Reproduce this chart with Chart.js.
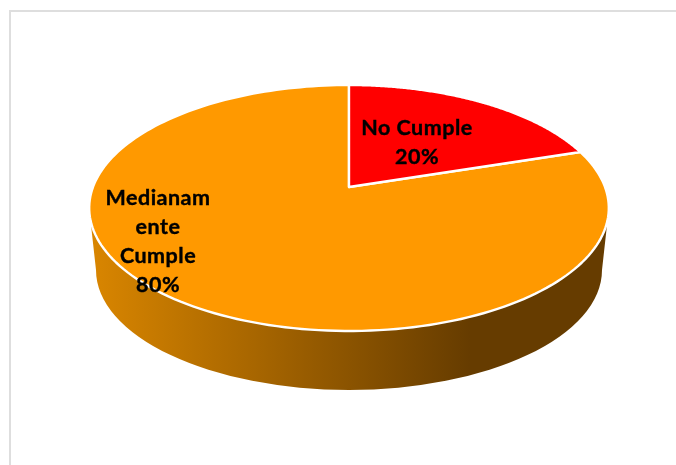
<!DOCTYPE html>
<html>
<head>
<meta charset="utf-8">
<script src="https://cdn.jsdelivr.net/npm/chart.js@4"></script>
<style>
  html, body { margin: 0; background: #fff; overflow: hidden; }
  #frame { position: absolute; left: 9px; top: 10px; right: 0; bottom: 0; border-left: 2px solid #dedede; border-top: 2px solid #dedede; }
  canvas { position: absolute; left: 0; top: 0; }
</style>
</head>
<body>
<div id="frame"></div>
<canvas id="pie" width="676" height="465"></canvas>
<script>
const categories = ['No Cumple', 'Medianamente Cumple'];
const values = [20, 80];
const sliceColors = ['#ff0000', '#ff9900'];
// wrapped the way the original label box breaks them
const labelLines = [['No Cumple'], ['Medianam', 'ente', 'Cumple']];

// perspective of the tilted disc: flat circle -> screen
const apexX = 349, apexY = 187;
const scaleU = 256, scaleV = 119.4, tilt = -0.1707;

function project(angle) {
  const u = Math.cos(angle), v = Math.sin(angle);
  const d = 1 + tilt * v;
  return [apexX + scaleU * u / d, apexY + scaleV * v / d];
}

function drawWall(ctx) {
  const grad = ctx.createLinearGradient(95, 0, 470, 0);
  grad.addColorStop(0, '#d88500');
  grad.addColorStop(1, '#663c00');
  ctx.beginPath();
  ctx.moveTo(91, 225);
  ctx.lineTo(96, 270);
  ctx.ellipse(349, 270, 253, 120, 0, Math.PI, 0, true);
  ctx.lineTo(607, 225);
  ctx.closePath();
  ctx.fillStyle = grad;
  ctx.fill();
}

function drawSlice(ctx, arc) {
  const steps = 180;
  ctx.beginPath();
  ctx.moveTo(apexX, apexY);
  for (let i = 0; i <= steps; i++) {
    const p = project(arc.startAngle + (arc.endAngle - arc.startAngle) * i / steps);
    ctx.lineTo(p[0], p[1]);
  }
  ctx.closePath();
  ctx.fillStyle = arc.options.backgroundColor;
  ctx.fill();
  ctx.strokeStyle = arc.options.borderColor;
  ctx.lineWidth = arc.options.borderWidth;
  ctx.lineJoin = 'round';
  ctx.stroke();
}

const tiltedPie = {
  id: 'tiltedPie',
  beforeDatasetDraw(chart, args) {
    const ctx = chart.ctx;
    const arcs = args.meta.data;
    ctx.save();
    drawWall(ctx);
    // big slice first so the red wedge sits on top
    drawSlice(ctx, arcs[1]);
    drawSlice(ctx, arcs[0]);
    ctx.restore();
    return false;
  },
  afterDatasetsDraw(chart, args, opts) {
    const ctx = chart.ctx;
    ctx.save();
    ctx.font = opts.font;
    ctx.letterSpacing = opts.letterSpacing;
    ctx.fillStyle = '#000';
    ctx.strokeStyle = '#000';
    ctx.lineWidth = 0.4;
    ctx.textAlign = 'center';
    ctx.textBaseline = 'middle';
    labelLines.forEach((lines, i) => {
      const all = lines.concat(values[i] + '%');
      all.forEach((t, j) => {
        ctx.fillText(t, opts.x[i], opts.y[i] + j * opts.lineHeight);
        ctx.strokeText(t, opts.x[i], opts.y[i] + j * opts.lineHeight);
      });
    });
    ctx.restore();
  }
};

new Chart(document.getElementById('pie'), {
  type: 'pie',
  data: {
    labels: categories,
    datasets: [{
      data: values,
      backgroundColor: sliceColors,
      borderColor: '#ffffff',
      borderWidth: 2.4
    }]
  },
  options: {
    responsive: false,
    animation: false,
    plugins: {
      legend: { display: false },
      tooltip: { enabled: false },
      tiltedPie: {
        font: 'bold 21.5px Lato',
        letterSpacing: '0.5px',
        x: [417, 158],
        y: [128, 198],
        lineHeight: 29
      }
    }
  },
  plugins: [tiltedPie]
});
</script>
</body>
</html>
